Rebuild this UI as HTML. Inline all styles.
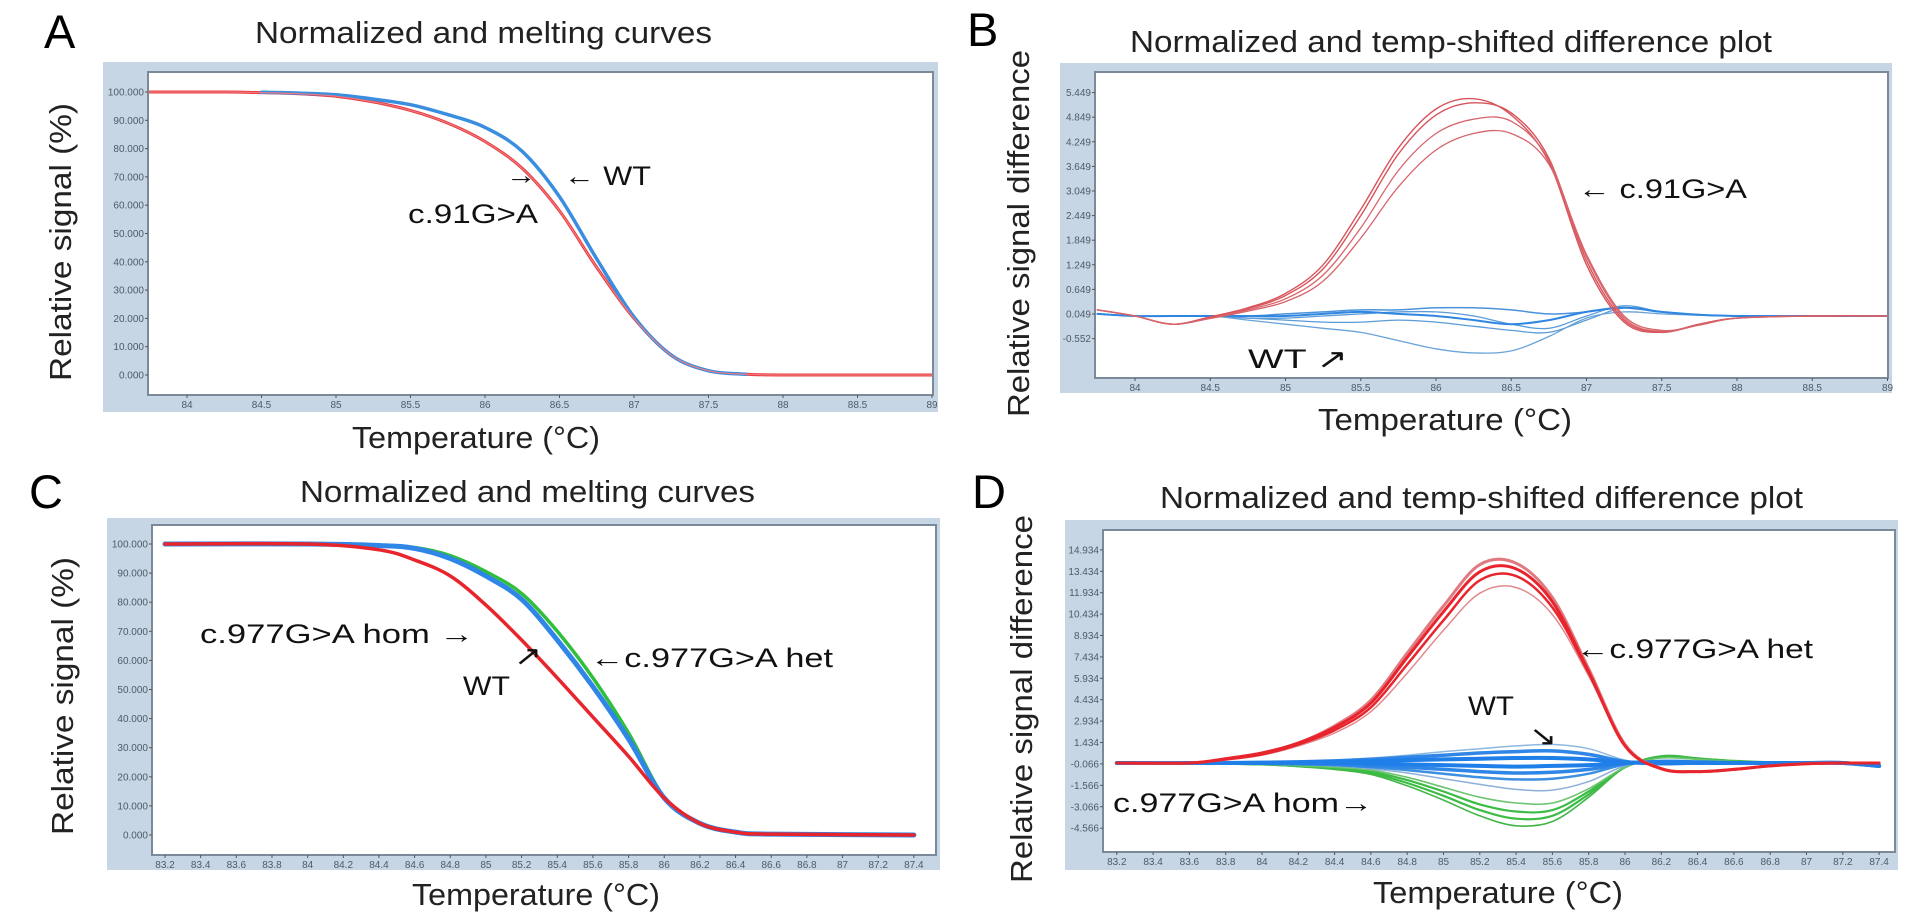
<!DOCTYPE html>
<html><head><meta charset="utf-8"><title>HRM melting curves</title>
<style>html,body{margin:0;padding:0;background:#fff}svg{display:block}text{font-family:"Liberation Sans",Arial,sans-serif}</style>
</head><body>
<svg id="fig" xmlns="http://www.w3.org/2000/svg" width="1913" height="923" viewBox="0 0 1913 923">
<rect width="1913" height="923" fill="#fff"/>
<text x="44" y="48" font-size="47">A</text>
<text x="967" y="46" font-size="47">B</text>
<text x="29" y="508" font-size="47">C</text>
<text x="972" y="508" font-size="47">D</text>
<text x="255" y="43" font-size="31" fill="#222" textLength="457" lengthAdjust="spacingAndGlyphs">Normalized and melting curves</text>
<text x="1130" y="52" font-size="31" fill="#222" textLength="642" lengthAdjust="spacingAndGlyphs">Normalized and temp-shifted difference plot</text>
<text x="300" y="502" font-size="31" fill="#222" textLength="455" lengthAdjust="spacingAndGlyphs">Normalized and melting curves</text>
<text x="1160" y="508" font-size="31" fill="#222" textLength="643" lengthAdjust="spacingAndGlyphs">Normalized and temp-shifted difference plot</text>
<text transform="translate(71,381) rotate(-90)" font-size="31" fill="#222" textLength="278" lengthAdjust="spacingAndGlyphs">Relative signal (%)</text>
<text transform="translate(1029,417) rotate(-90)" font-size="31" fill="#222" textLength="367" lengthAdjust="spacingAndGlyphs">Relative signal difference</text>
<text transform="translate(73,835) rotate(-90)" font-size="31" fill="#222" textLength="278" lengthAdjust="spacingAndGlyphs">Relative signal (%)</text>
<text transform="translate(1032,883) rotate(-90)" font-size="31" fill="#222" textLength="368" lengthAdjust="spacingAndGlyphs">Relative signal difference</text>
<text x="352" y="448" font-size="31" fill="#222" textLength="248" lengthAdjust="spacingAndGlyphs">Temperature (°C)</text>
<text x="1318" y="430" font-size="31" fill="#222" textLength="254" lengthAdjust="spacingAndGlyphs">Temperature (°C)</text>
<text x="412" y="905" font-size="31" fill="#222" textLength="248" lengthAdjust="spacingAndGlyphs">Temperature (°C)</text>
<text x="1373" y="903" font-size="31" fill="#222" textLength="250" lengthAdjust="spacingAndGlyphs">Temperature (°C)</text>
<g id="plots"></g>
<g id="ann" font-size="27" fill="#111">
<text x="564" y="185" textLength="87" lengthAdjust="spacingAndGlyphs">← WT</text>
<text x="506" y="184" textLength="30" lengthAdjust="spacingAndGlyphs">→</text>
<text x="408" y="223" textLength="130" lengthAdjust="spacingAndGlyphs">c.91G&gt;A</text>
<text x="1578" y="198" textLength="169" lengthAdjust="spacingAndGlyphs">← c.91G&gt;A</text>
<text x="1248" y="368" textLength="100" lengthAdjust="spacingAndGlyphs">WT ↗</text>
<text x="200" y="643" textLength="274" lengthAdjust="spacingAndGlyphs">c.977G&gt;A hom →</text>
<text x="463" y="695" textLength="47" lengthAdjust="spacingAndGlyphs">WT</text>
<text x="514" y="665" textLength="28" lengthAdjust="spacingAndGlyphs">↗</text>
<text x="590" y="667" textLength="243" lengthAdjust="spacingAndGlyphs">←c.977G&gt;A het</text>
<text x="1113" y="812" textLength="260" lengthAdjust="spacingAndGlyphs">c.977G&gt;A hom→</text>
<text x="1468" y="715" textLength="46" lengthAdjust="spacingAndGlyphs">WT</text>
<text x="1529" y="745" textLength="28" lengthAdjust="spacingAndGlyphs">↘</text>
<text x="1576" y="658" textLength="237" lengthAdjust="spacingAndGlyphs">←c.977G&gt;A het</text>
</g>
</svg>
<script>
// ---------- Panel A data ----------
const tempA = [83.74,84.25,84.5,84.75,85,85.25,85.5,85.75,86,86.25,86.5,86.75,87,87.25,87.5,87.75,88,88.5,89];
const redA = [100,100,99.8,99.4,98.5,96.5,93.5,89,82.5,73,58,38,20,7,1.5,0.3,0,0,0];
const tempABlue = [84.5,84.75,85,85.25,85.5,85.75,86,86.25,86.5,86.75,87,87.25,87.5,87.75];
const blueA = [99.9,99.6,99,97.5,95.5,92,87.5,79,63,41,20.5,7,1.5,0.3];
const yTicksA = [100,90,80,70,60,50,40,30,20,10,0];
const yTickLabelsA = ["100.000","90.000","80.000","70.000","60.000","50.000","40.000","30.000","20.000","10.000","0.000"];
const xTicksA = [84,84.5,85,85.5,86,86.5,87,87.5,88,88.5,89];
const xTickLabelsA = ["84","84.5","85","85.5","86","86.5","87","87.5","88","88.5","89"];

// ---------- Panel B data ----------
const tempB = [83.75,84,84.25,84.5,84.75,85,85.25,85.5,85.75,86,86.25,86.5,86.75,87,87.25,87.5,87.75,88,88.5,89];
const redB1 = [0.15,0.0,-0.2,-0.02,0.2,0.55,1.25,2.6,4.1,5.05,5.3,4.9,3.75,1.25,-0.15,-0.4,-0.2,-0.05,0,0];
const redB2 = [0.15,0.0,-0.2,-0.03,0.18,0.5,1.15,2.45,3.95,4.9,5.2,4.95,3.85,1.35,-0.1,-0.38,-0.2,-0.05,0,0];
const redB3 = [0.15,0.0,-0.2,-0.05,0.15,0.42,1.0,2.15,3.55,4.45,4.8,4.75,3.8,1.45,-0.05,-0.38,-0.22,-0.05,0,0];
const redB4 = [0.15,0.0,-0.2,-0.06,0.12,0.35,0.85,1.9,3.15,4.05,4.45,4.45,3.7,1.5,0.0,-0.35,-0.22,-0.05,0,0];
const blueB1 = [0.05,0,0,0,0,0.05,0.1,0.15,0.15,0.2,0.2,0.15,0.05,0.1,0.2,0.1,0.03,0,0,0];
const blueB2 = [0.05,0,0,0,-0.05,-0.05,0,0.05,0.1,0.1,0.0,-0.2,-0.3,0.0,0.25,0.1,0.03,0,0,0];
const blueB3 = [0.05,0,0,0,-0.05,-0.1,-0.15,-0.15,-0.1,-0.15,-0.25,-0.35,-0.4,-0.1,0.2,0.1,0.03,0,0,0];
const blueB4 = [0.05,0,0,0,-0.1,-0.2,-0.3,-0.4,-0.6,-0.8,-0.9,-0.85,-0.5,-0.05,0.1,0.05,0.02,0,0,0];
const blueB5 = [0.05,0,0,0,0,0,0.05,0.1,0.05,0,-0.1,-0.2,-0.1,0.1,0.2,0.1,0.03,0,0,0];
const yTicksB = [5.449,4.849,4.249,3.649,3.049,2.449,1.849,1.249,0.649,0.049,-0.552];
const yTickLabelsB = ["5.449","4.849","4.249","3.649","3.049","2.449","1.849","1.249","0.649","0.049","-0.552"];
const xTicksB = [84,84.5,85,85.5,86,86.5,87,87.5,88,88.5,89];
const xTickLabelsB = ["84","84.5","85","85.5","86","86.5","87","87.5","88","88.5","89"];

// ---------- Panel C data ----------
const tempC = [83.2,84.0,84.4,84.6,84.8,85.0,85.2,85.4,85.6,85.8,86.0,86.2,86.4,86.6,87.4];
const redC = [100,100,98,94.5,89,79,67,54,40.5,27,12.7,4,1,0.3,0];
const blueC = [100,100,99.5,98.5,95,89,81,67,51,33,12.7,4,1,0.3,0];
const greenC = [100,100,99.6,98.8,96,90.5,83,70,54,35,13,4,1,0.3,0];
const yTicksC = [100,90,80,70,60,50,40,30,20,10,0];
const yTickLabelsC = ["100.000","90.000","80.000","70.000","60.000","50.000","40.000","30.000","20.000","10.000","0.000"];
const xTicksC = [83.2,83.4,83.6,83.8,84,84.2,84.4,84.6,84.8,85,85.2,85.4,85.6,85.8,86,86.2,86.4,86.6,86.8,87,87.2,87.4];
const xTickLabelsC = ["83.2","83.4","83.6","83.8","84","84.2","84.4","84.6","84.8","85","85.2","85.4","85.6","85.8","86","86.2","86.4","86.6","86.8","87","87.2","87.4"];

// ---------- Panel D data ----------
const tempD = [83.2,83.6,83.8,84.0,84.2,84.4,84.6,84.8,85.0,85.2,85.4,85.6,85.8,86.0,86.2,86.4,86.6,86.8,87.0,87.2,87.4];
const redD1 = [0,0,0.3,0.7,1.4,2.6,4.4,7.7,11.0,13.9,14.0,11.6,6.6,1.3,-0.4,-0.6,-0.45,-0.2,-0.05,0,0];
const redD2 = [0,0,0.3,0.7,1.4,2.5,4.2,7.4,10.6,13.4,13.6,11.3,6.4,1.2,-0.4,-0.6,-0.45,-0.2,-0.05,0,0];
const redD3 = [0,0,0.25,0.6,1.3,2.3,3.9,6.9,10.0,12.8,13.1,10.9,6.3,1.2,-0.4,-0.6,-0.45,-0.2,-0.05,0,0];
const redD4 = [0,0,0.2,0.55,1.2,2.1,3.6,6.3,9.3,11.9,12.3,10.4,6.1,1.2,-0.35,-0.55,-0.4,-0.2,-0.05,0,0];
const greenD1 = [0,0,-0.05,-0.1,-0.25,-0.45,-0.8,-1.6,-2.6,-3.7,-4.4,-4.1,-2.4,-0.3,0.5,0.35,0.15,0.05,0,0,0];
const greenD2 = [0,0,-0.05,-0.1,-0.22,-0.4,-0.7,-1.4,-2.3,-3.3,-3.9,-3.7,-2.2,-0.3,0.45,0.3,0.15,0.05,0,0,0];
const greenD3 = [0,0,-0.05,-0.1,-0.2,-0.35,-0.6,-1.2,-2.0,-2.9,-3.4,-3.3,-2.0,-0.3,0.4,0.3,0.1,0.05,0,0,0];
const greenD4 = [0,0,-0.05,-0.08,-0.18,-0.3,-0.5,-1.0,-1.7,-2.4,-2.8,-2.8,-1.8,-0.3,0.35,0.25,0.1,0.05,0,0,0];
const blueD1 = [0,0,0.02,0.05,0.1,0.2,0.35,0.55,0.8,1.0,1.2,1.3,1.0,0.2,-0.1,-0.05,0,0,0,0,-0.2];
const blueD2 = [0,0,0.02,0.04,0.08,0.15,0.25,0.4,0.55,0.7,0.8,0.85,0.6,0.1,-0.05,0,0,0,0,0,-0.2];
const blueD3 = [0,0,0,0.02,0.04,0.08,0.12,0.2,0.25,0.3,0.35,0.35,0.25,0.05,0,0,0,0,0,0,-0.2];
const blueD4 = [0,0,0,0,0,0,-0.05,-0.1,-0.15,-0.2,-0.25,-0.2,-0.15,0,0.05,0.05,0,0,0,0,-0.2];
const blueD5 = [0,0,0,-0.02,-0.05,-0.1,-0.2,-0.3,-0.45,-0.6,-0.7,-0.65,-0.45,-0.05,0.1,0.05,0,0,0,0,-0.2];
const blueD6 = [0,0,0,-0.03,-0.08,-0.15,-0.3,-0.5,-0.75,-1.0,-1.15,-1.1,-0.75,-0.1,0.15,0.1,0,0,0,0,-0.2];
const blueD7 = [0,0,-0.02,-0.05,-0.1,-0.2,-0.4,-0.7,-1.1,-1.5,-1.85,-1.9,-1.3,-0.2,0.15,0.1,0,0,0,0,-0.2];
const yTicksD = [14.934,13.434,11.934,10.434,8.934,7.434,5.934,4.434,2.934,1.434,-0.066,-1.566,-3.066,-4.566];
const yTickLabelsD = ["14.934","13.434","11.934","10.434","8.934","7.434","5.934","4.434","2.934","1.434","-0.066","-1.566","-3.066","-4.566"];
const xTicksD = [83.2,83.4,83.6,83.8,84,84.2,84.4,84.6,84.8,85,85.2,85.4,85.6,85.8,86,86.2,86.4,86.6,86.8,87,87.2,87.4];
const xTickLabelsD = ["83.2","83.4","83.6","83.8","84","84.2","84.4","84.6","84.8","85","85.2","85.4","85.6","85.8","86","86.2","86.4","86.6","86.8","87","87.2","87.4"];

const NS = "http://www.w3.org/2000/svg";
const root = document.getElementById('plots');
function mk(tag, attrs, parent){const e=document.createElementNS(NS,tag);for(const k in attrs)e.setAttribute(k,attrs[k]);(parent||root).appendChild(e);return e;}
function pathD(xs, ys, sx, sy){
  const p = xs.map((t,i)=>[sx(t), sy(ys[i])]);
  let d = "M"+p[0][0].toFixed(1)+","+p[0][1].toFixed(1);
  for(let i=0;i<p.length-1;i++){
    const p0=p[i-1]||p[i], p1=p[i], p2=p[i+1], p3=p[i+2]||p[i+1];
    const c1=[p1[0]+(p2[0]-p0[0])/6, p1[1]+(p2[1]-p0[1])/6];
    const c2=[p2[0]-(p3[0]-p1[0])/6, p2[1]-(p3[1]-p1[1])/6];
    d += " C"+c1[0].toFixed(1)+","+c1[1].toFixed(1)+" "+c2[0].toFixed(1)+","+c2[1].toFixed(1)+" "+p2[0].toFixed(1)+","+p2[1].toFixed(1);
  }
  return d;
}
function panel(cfg){
  const g = mk('g',{});
  
  
  const bg = mk('rect',{x:cfg.bx0,y:cfg.by0,width:cfg.bx1-cfg.bx0,height:cfg.by1-cfg.by0,fill:'#c6d6e5'},g);
  
  
  const pa = mk('rect',{x:cfg.px0,y:cfg.py0,width:cfg.px1-cfg.px0,height:cfg.py1-cfg.py0,fill:'#fff',stroke:'#7a8a9a','stroke-width':2},g);
  
  
  const clip = mk('clipPath',{id:'clip'+cfg.id},g);
  mk('rect',{x:cfg.px0+1,y:cfg.py0+1,width:cfg.px1-cfg.px0-2,height:cfg.py1-cfg.py0-2},clip);
  cfg.yt.forEach((v,i)=>{
    const y = cfg.sy(v);
    mk('line',{x1:cfg.px0-3,x2:cfg.px0,y1:y,y2:y,stroke:'#555','stroke-width':1},g);
    const t = mk('text',{x:cfg.px0-4,y:y+3.5,'font-size':10,'text-anchor':'end',fill:'#505a66'},g);
    
    
    t.textContent = cfg.ytl[i];
  });
  cfg.xt.forEach((v,i)=>{
    const x = cfg.sx(v);
    mk('line',{x1:x,x2:x,y1:cfg.py1,y2:cfg.py1+3,stroke:'#555','stroke-width':1},g);
    const t = mk('text',{x:x,y:cfg.py1+13,'font-size':10,'text-anchor':'middle',fill:'#505a66'},g);
    
    
    t.textContent = cfg.xtl[i];
  });
  const cg = mk('g',{'clip-path':'url(#clip'+cfg.id+')',fill:'none','stroke-linejoin':'round','stroke-linecap':'round'},g);
  cfg.series.forEach(s=>{
    const p = mk('path',{d:pathD(s.x,s.y,cfg.sx,cfg.sy),stroke:s.c,'stroke-width':s.w,opacity:s.o||1},cg);
    
    
  });
}
panel({id:'a',bx0:103,by0:62,bx1:938,by1:412,px0:148,py0:72,px1:933,py1:395,
  sx:t=>783+(t-88)*149, sy:v=>375-v*2.83, yt:yTicksA, ytl:yTickLabelsA, xt:xTicksA, xtl:xTickLabelsA,
  series:[
    {x:tempA,y:redA,c:'#e8383d',w:3,name:'series-a-c91g-a'},
    {x:tempABlue,y:blueA,c:'#3a8ee0',w:3.5,name:'series-a-wt'},
    {x:tempA,y:redA,c:'#f07a7e',w:1.2,name:'series-a-c91g-a-thin'}
  ]});
panel({id:'b',bx0:1060,by0:63,bx1:1892,by1:393,px0:1095,py0:72,px1:1888,py1:378,
  sx:t=>1737+(t-88)*150.5, sy:v=>316-v*41, yt:yTicksB, ytl:yTickLabelsB, xt:xTicksB, xtl:xTickLabelsB,
  series:[
    {x:tempB,y:blueB1,c:'#4a93dc',w:1.5,name:'series-b-wt-1'},
    {x:tempB,y:blueB2,c:'#5a9bd8',w:1.3,name:'series-b-wt-2'},
    {x:tempB,y:blueB3,c:'#5a9bd8',w:1.3,name:'series-b-wt-3'},
    {x:tempB,y:blueB4,c:'#6aa3d8',w:1.3,name:'series-b-wt-4'},
    {x:tempB,y:blueB5,c:'#2f86e0',w:2,name:'series-b-wt-5'},
    {x:tempB,y:redB1,c:'#d8545c',w:1.4,name:'series-b-c91g-a-1'},
    {x:tempB,y:redB2,c:'#d8545c',w:1.4,name:'series-b-c91g-a-2'},
    {x:tempB,y:redB3,c:'#d8646b',w:1.3,name:'series-b-c91g-a-3'},
    {x:tempB,y:redB4,c:'#d8646b',w:1.3,name:'series-b-c91g-a-4'}
  ]});
panel({id:'c',bx0:107,by0:518,bx1:940,by1:870,px0:152,py0:525,px1:936,py1:855,
  sx:t=>165+(t-83.2)*178.3, sy:v=>835-v*2.91, yt:yTicksC, ytl:yTickLabelsC, xt:xTicksC, xtl:xTickLabelsC,
  series:[
    {x:tempC,y:greenC,c:'#2fbf3a',w:3.5,name:'series-c-het'},
    {x:tempC,y:blueC,c:'#2f86e6',w:5,name:'series-c-wt'},
    {x:tempC,y:redC,c:'#e8252d',w:3.5,name:'series-c-hom'}
  ]});
panel({id:'d',bx0:1065,by0:520,bx1:1898,by1:870,px0:1103,py0:530,px1:1895,py1:852,
  sx:t=>1262+(t-84)*181.5, sy:v=>763-v*14.27, yt:yTicksD, ytl:yTickLabelsD, xt:xTicksD, xtl:xTickLabelsD,
  series:[
    {x:tempD,y:greenD1,c:'#43b64a',w:1.6,name:'series-d-hom-1'},
    {x:tempD,y:greenD2,c:'#3cbc45',w:2.2,name:'series-d-hom-2'},
    {x:tempD,y:greenD3,c:'#3cbc45',w:2.2,name:'series-d-hom-3'},
    {x:tempD,y:greenD4,c:'#6cc470',w:1.6,name:'series-d-hom-4'},
    {x:tempD,y:blueD1,c:'#8db8e0',w:1.5,name:'series-d-wt-1'},
    {x:tempD,y:blueD7,c:'#8db0d8',w:1.5,name:'series-d-wt-7'},
    {x:tempD,y:blueD6,c:'#3d8fe0',w:2.5,name:'series-d-wt-6'},
    {x:tempD,y:blueD2,c:'#2f86e6',w:3.5,name:'series-d-wt-2'},
    {x:tempD,y:blueD5,c:'#2f86e6',w:3.5,name:'series-d-wt-5'},
    {x:tempD,y:blueD3,c:'#1f7ee8',w:4,name:'series-d-wt-3'},
    {x:tempD,y:blueD4,c:'#1f7ee8',w:4,name:'series-d-wt-4'},
    {x:tempD,y:redD4,c:'#e08a8e',w:1.5,name:'series-d-het-4'},
    {x:tempD,y:redD1,c:'#e07a80',w:3,name:'series-d-het-1'},
    {x:tempD,y:redD3,c:'#e8252d',w:2.5,name:'series-d-het-3'},
    {x:tempD,y:redD2,c:'#e8252d',w:3,name:'series-d-het-2'}
  ]});
</script>
</body></html>
